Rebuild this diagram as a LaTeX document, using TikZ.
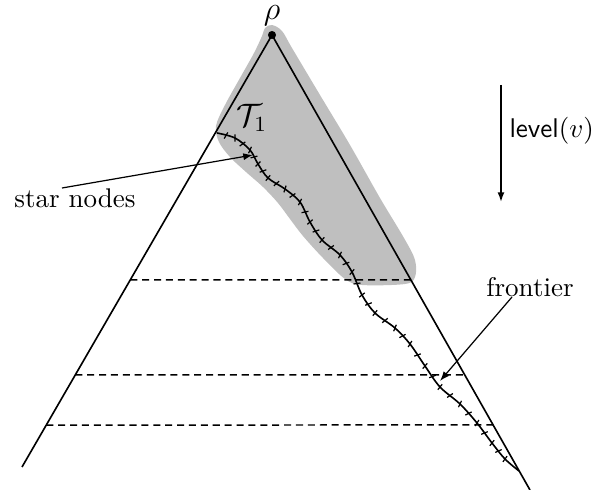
\documentclass[tikz,border=0pt]{standalone}
\usetikzlibrary{arrows.meta,calc}
\begin{document}
\begin{tikzpicture}[x=0.37pt,y=-0.37pt,line width=0.6pt,
  edge/.style={line width=0.6pt},
  levelline/.style={dash pattern=on 2.6pt off 1.8pt,line width=0.55pt},
  pointer/.style={line width=0.45pt,-{Latex[length=3.6pt,width=2.6pt]}},
  starpath/.style={line width=0.6pt},
  tickmark/.style={line width=0.45pt},
  lbl/.style={inner sep=1pt}]
\useasboundingbox (0,0) rectangle (594,490);
% grey region T_1
\fill[black!25] plot[smooth cycle,tension=0.55] coordinates {
 (272,25) (282,31) (292,48) (320,95) (350,145) (380,198) (404,238) (415,260) (415,277) (405,284)
 (362,285) (345,279) (323,258) (303,236) (290,219) (278,203) (263,187) (246,172) (230,157)
 (219,142) (216,126) (225,105) (240,78) (254,53) (262,36) (265,28)};
% tree edges
\coordinate (root) at (272,35);
\coordinate (L) at (22,467);
\coordinate (R) at (530,490);
\draw[edge] (root) -- (L);
\draw[edge] (root) -- (R);
\fill (root) circle (1.5pt);
\node[inner sep=0pt] (rho) at (272,16) {\large$\rho$};
% level lines
\coordinate (a1) at ($(root)!0.567!(L)$);
\coordinate (b1) at ($(root)!0.538!(R)$);
\coordinate (a2) at ($(root)!0.787!(L)$);
\coordinate (b2) at ($(root)!0.747!(R)$);
\coordinate (a3) at ($(root)!0.903!(L)$);
\coordinate (b3) at ($(root)!0.857!(R)$);
\draw[levelline] (a1) -- (b1);
\draw[levelline] (a2) -- (b2);
\draw[levelline] (a3) -- (b3);
% path of star nodes
\coordinate (p1) at (217,133);
\coordinate (p2) at (235,138);
\coordinate (p3) at (250,150);
\coordinate (p4) at (258,164);
\coordinate (p5) at (268,178);
\coordinate (p6) at (285,189);
\coordinate (p7) at (300,202);
\coordinate (p8) at (310,222);
\coordinate (p9) at (322,240);
\coordinate (p10) at (340,255);
\coordinate (p11) at (352,272);
\coordinate (p12) at (362,295);
\coordinate (p13) at (375,313);
\coordinate (p14) at (395,328);
\coordinate (p15) at (410,344);
\coordinate (p16) at (425,366);
\coordinate (p17) at (440,387);
\coordinate (p18) at (460,404);
\coordinate (p19) at (477,423);
\coordinate (p20) at (492,443);
\coordinate (p21) at (505,459);
\coordinate (p22) at (519,471);
\draw[starpath] plot[smooth,tension=0.55] coordinates {
 (p1) (p2) (p3) (p4) (p5) (p6) (p7) (p8) (p9) (p10) (p11) (p12) (p13) (p14) (p15) (p16)
 (p17) (p18) (p19) (p20) (p21) (p22)};
\foreach \i [evaluate=\i as \j using int(\i+1)] in {1,...,20} {
  \draw[tickmark] ($(p\i)!0.5!(p\j)!1.3pt!75:(p\j)$) -- ($(p\i)!0.5!(p\j)!1.3pt!-105:(p\j)$);
  \draw[tickmark] ($(p\j)!1.3pt!105:(p\i)$) -- ($(p\j)!1.3pt!-75:(p\i)$);
}
\node[lbl] (T1) at (252,118) {\large$\mathcal{T}_1$};
% labels and pointers
\node[lbl] (star) at (75,198) {star nodes};
\coordinate (sn) at (62,188);
\coordinate (st) at (253,155);
\draw[pointer] (sn) -- (st);
\node[lbl] (front) at (530,287) {frontier};
\coordinate (fs) at (512,297);
\coordinate (ft) at (440,381);
\draw[pointer] (fs) -- (ft);
\coordinate (lvtop) at (501,85);
\coordinate (lvbot) at (501,202);
\draw[line width=0.6pt,-{Latex[length=3.6pt,width=2.6pt]}] (lvtop) -- (lvbot);
\node[lbl,anchor=west] (level) at (506,131) {\textsf{level}$(v)$};
\end{tikzpicture}
\end{document}
